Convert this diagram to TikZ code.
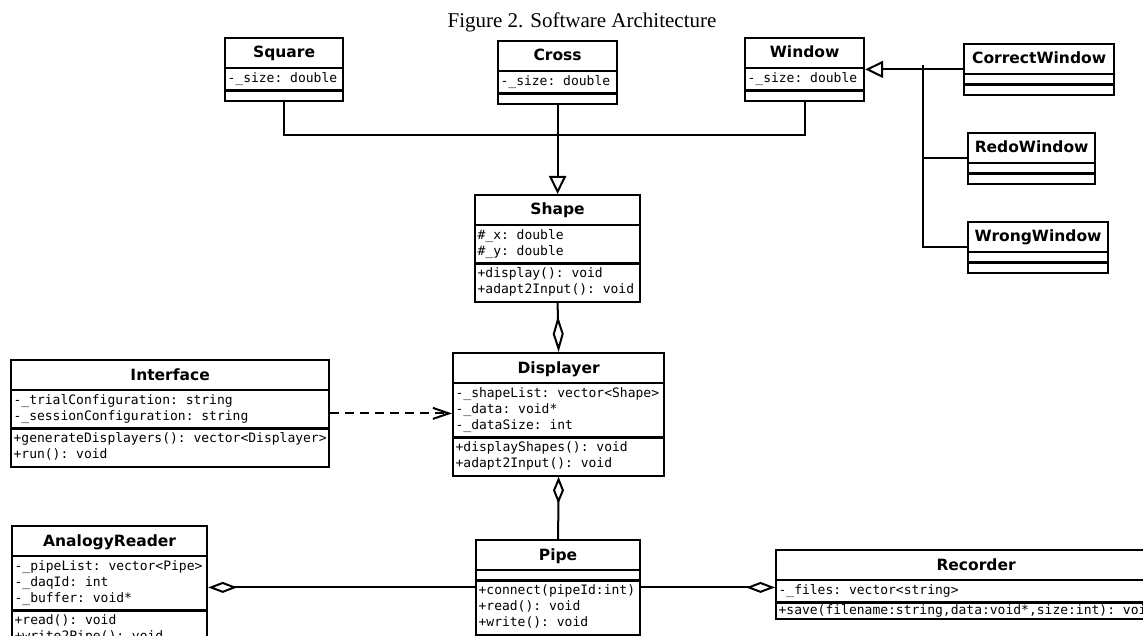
\documentclass[tikz,border=0pt]{standalone}
\usepackage{fontspec}
\setmainfont{Liberation Serif}
\setsansfont{DejaVu Sans}
\setmonofont{DejaVu Sans Mono}
\usetikzlibrary{shapes.multipart,arrows.meta}

\newcommand{\titlefont}{\fontsize{15.5}{24}\selectfont\sffamily\bfseries}
\newcommand{\memberfont}{\fontsize{13}{16}\selectfont\ttfamily}
\newcommand{\blankrow}{\rule{0pt}{4pt}}

\tikzset{
  umlclass/.style = {shape=rectangle split, rectangle split parts=3,
                draw, line width=2.2pt, anchor=north west, align=left,
                rectangle split part align={center,left,left},
                inner xsep=2.5pt, inner ysep=2pt, font=\memberfont},
  assoc/.style   = {draw, line width=2pt},
  inherit/.style = {assoc, -{Triangle[open, length=18pt, width=17pt]}},
  aggreg/.style  = {assoc, -{Diamond[open, length=#1, width=11pt]}},
  depend/.style  = {assoc, dash pattern=on 9pt off 6pt,
                -{Straight Barb[length=16pt, width=11pt]}},
}

\begin{document}
\begin{tikzpicture}[x=1pt, y=-1pt]
	\useasboundingbox (0,0) rectangle (1143,636);
	\clip (0,0) rectangle (1143,636);
	\node [font=\fontsize{21}{24}\selectfont, anchor=base] (caption) at (582,28)
		{Figure 2. Software Architecture};

	% shapes
	\node [umlclass, minimum width=118pt] (Square) at (224,37)
		{{\titlefont\strut Square}
		\nodepart{two}\strut-\_size: double
		\nodepart{three}\blankrow};
	\node [umlclass, minimum width=119pt] (Cross) at (497,40)
		{{\titlefont\strut Cross}
		\nodepart{two}\strut-\_size: double
		\nodepart{three}\blankrow};
	\node [umlclass, minimum width=119pt] (Window) at (744,37)
		{{\titlefont\strut Window}
		\nodepart{two}\strut-\_size: double
		\nodepart{three}\blankrow};
	\node [umlclass, minimum width=150pt] (CorrectWindow) at (963,43)
		{{\titlefont\strut CorrectWindow}
		\nodepart{two}\blankrow
		\nodepart{three}\blankrow};
	\node [umlclass, minimum width=127pt] (RedoWindow) at (967,132)
		{{\titlefont\strut RedoWindow}
		\nodepart{two}\blankrow
		\nodepart{three}\blankrow};
	\node [umlclass, minimum width=140pt] (WrongWindow) at (967,221)
		{{\titlefont\strut WrongWindow}
		\nodepart{two}\blankrow
		\nodepart{three}\blankrow};
	\node [umlclass, minimum width=165pt] (Shape) at (474,194)
		{{\titlefont\strut Shape}
		\nodepart{two}\strut\#\_x: double\\\strut\#\_y: double
		\nodepart{three}\strut+display(): void\\\strut+adapt2Input(): void};

	% displaying
	\node [umlclass, minimum width=211pt] (Displayer) at (452,352)
		{{\titlefont\strut Displayer}
		\nodepart{two}\strut-\_shapeList: vector<Shape>\\\strut-\_data: void*\\\strut-\_dataSize: int
		\nodepart{three}\strut+displayShapes(): void\\\strut+adapt2Input(): void};
	\node [umlclass, minimum width=318pt] (Interface) at (10,359)
		{{\titlefont\strut Interface}
		\nodepart{two}\strut-\_trialConfiguration: string\\\strut-\_sessionConfiguration: string
		\nodepart{three}\strut+generateDisplayers(): vector<Displayer>\\\strut+run(): void};

	% data flow
	\node [umlclass, minimum width=195pt] (AnalogyReader) at (11,525)
		{{\titlefont\strut AnalogyReader}
		\nodepart{two}\strut-\_pipeList: vector<Pipe>\\\strut-\_daqId: int\\\strut-\_buffer: void*
		\nodepart{three}\strut+read(): void\\\strut+write2Pipe(): void};
	\node [umlclass, minimum width=164pt] (Pipe) at (475,539)
		{{\titlefont\strut Pipe}
		\nodepart{two}\blankrow
		\nodepart{three}\strut+connect(pipeId:int)\\\strut+read(): void\\\strut+write(): void};
	\node [umlclass, minimum width=400pt] (Recorder) at (775,549)
		{{\titlefont\strut Recorder}
		\nodepart{two}\strut-\_files: vector<string>
		\nodepart{three}\rule[-1.5pt]{0pt}{10.5pt}\smash{+save(filename:string,data:void*,size:int): void}};

	% generalisation
	\coordinate (shapebus) at (556.5,135);
	\coordinate (winbus) at (923,65);
	\draw [assoc] (Square.south) |- (shapebus) -| (Window.south);
	\draw [inherit] (Cross.south) -- (Shape.north);
	\draw [inherit] (CorrectWindow.west) -- (Window.east);
	\draw [assoc] (RedoWindow.west) -| (winbus);
	\draw [assoc] (WrongWindow.west) -| (winbus);

	% aggregation and use
	\draw [aggreg=36pt] (Shape.south) -- (Displayer.north);
	\draw [aggreg=27pt] (Pipe.north) -- (Displayer.south);
	\draw [aggreg=29pt] (Pipe.west) -- (Pipe.west -| AnalogyReader.east);
	\draw [aggreg=29pt] (Pipe.east) -- (Pipe.east -| Recorder.west);
	\draw [depend] (Interface.east) -- (Interface.east -| Displayer.west);
\end{tikzpicture}
\end{document}
